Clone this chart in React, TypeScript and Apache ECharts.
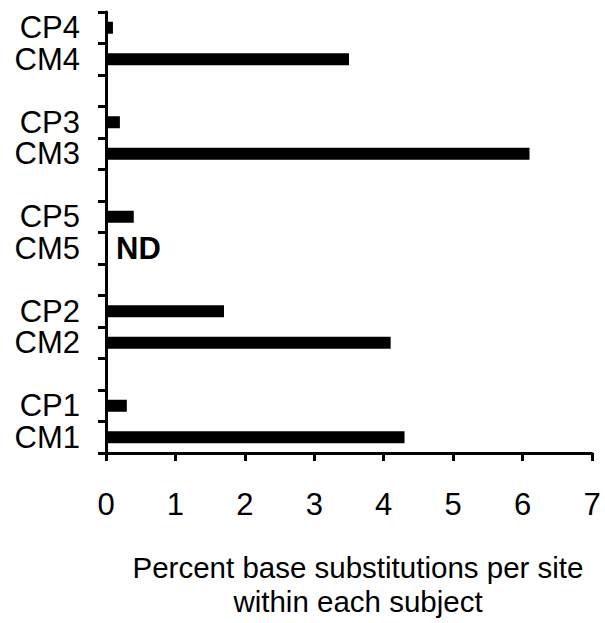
import React, { useEffect, useRef } from "react";
import * as echarts from "echarts";

// categories from bottom to top; gap entries are blank spacers
const categories = ["CM1", "CP1", "gap1", "CM2", "CP2", "gap2", "CM5", "CP5", "gap3", "CM3", "CP3", "gap4", "CM4", "CP4"];
const values: (number | null)[] = [4.3, 0.3, null, 4.1, 1.7, null, 0, 0.4, null, 6.1, 0.2, null, 3.5, 0.1];
const notDetected = ["CM5"];
const xTicks = [0, 1, 2, 3, 4, 5, 6, 7];
const xName = "Percent base substitutions per site\nwithin each subject";

export default function App() {
  const ref = useRef<HTMLDivElement>(null);
  useEffect(() => {
    if (!ref.current) return;
    const chart = echarts.init(ref.current, null, { renderer: "svg" });
    const font = "'Liberation Sans', Arial, sans-serif";
    chart.setOption({
      animation: false,
      grid: { left: 106, right: 13, top: 12, bottom: 162, containLabel: false },
      xAxis: {
        type: "value",
        min: xTicks[0],
        max: xTicks[xTicks.length - 1],
        interval: 1,
        splitLine: { show: false },
        axisLine: { show: true, lineStyle: { color: "#000", width: 3 } },
        axisTick: { show: true, length: 8, lineStyle: { color: "#000", width: 3 } },
        axisLabel: { color: "#000", fontSize: 31, fontFamily: font, margin: 36 },
        name: xName,
        nameLocation: "middle",
        nameGap: 98,
        nameTextStyle: { color: "#000", fontSize: 29.5, fontFamily: font, lineHeight: 33.5, padding: [0, 0, 0, 18] },
      },
      yAxis: {
        type: "category",
        data: categories,
        axisLine: { show: true, lineStyle: { color: "#000", width: 3 } },
        axisTick: { show: true, length: 8, interval: 0, alignWithLabel: false, lineStyle: { color: "#000", width: 3 } },
        axisLabel: {
          interval: 0,
          color: "#000",
          fontSize: 31,
          lineHeight: 30,
          fontFamily: font,
          margin: 26,
          formatter: (v: string) => (v.startsWith("gap") ? "" : v),
        },
      },
      series: [
        {
          type: "bar",
          barWidth: 12,
          itemStyle: { color: "#000" },
          data: values.map((v, i) =>
            notDetected.includes(categories[i])
              ? {
                  value: v,
                  label: {
                    show: true,
                    position: "right",
                    distance: 10,
                    formatter: "ND",
                    color: "#000",
                    fontSize: 31,
                    fontWeight: "bold",
                    fontFamily: font,
                  },
                }
              : v
          ),
        },
      ],
    });
    return () => chart.dispose();
  }, []);
  return <div ref={ref} style={{ width: 605, height: 623, position: "absolute", left: 0, top: 0 }} />;
}
